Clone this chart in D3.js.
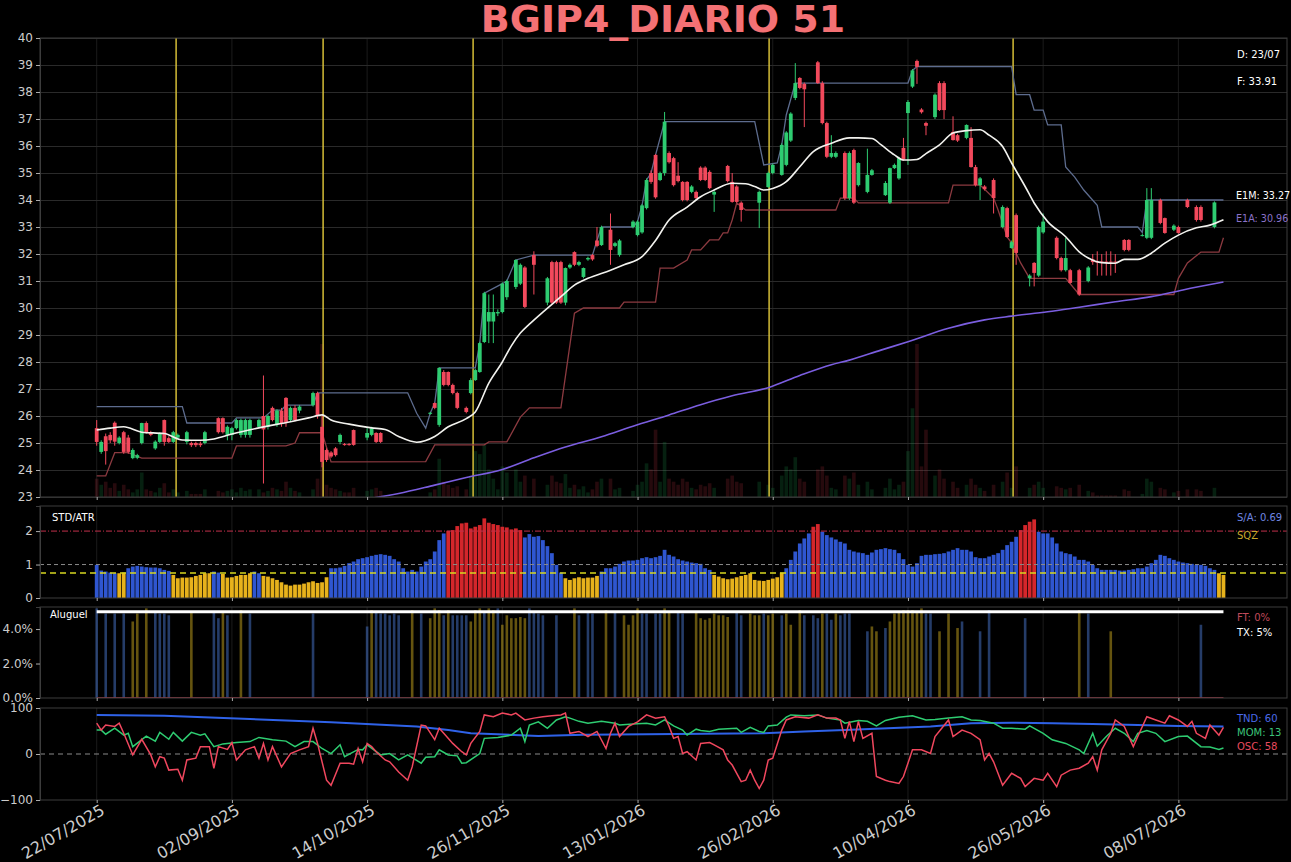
<!DOCTYPE html>
<html><head><meta charset="utf-8">
<script src="https://cdn.jsdelivr.net/npm/d3@7"></script>
<style>body{margin:0;background:#000;} svg{display:block;font-family:"DejaVu Sans",sans-serif;}</style>
</head><body><svg id="c" width="1291" height="862"></svg>
<script>
// ---------------- DATA ----------------
const title = "BGIP4_DIARIO 51";
const tickIdx = [0,30,60,90,120,150,180,210,240];
const tickLabels = ["22/07/2025","02/09/2025","14/10/2025","26/11/2025","13/01/2026","26/02/2026","10/04/2026","26/05/2026","08/07/2026"];
const priceTicks = [23,24,25,26,27,28,29,30,31,32,33,34,35,36,37,38,39,40];

// candles: index, open, high, low, close
const cIdx  = [0,1,2,3,4,5,6,7,8,9,10,11,12,13,14,15,16,17,18,20,21,22,23,24,27,28,29,30,31,32,33,34,36,37,38,39,40,41,42,43,44,45,48,49,50,51,52,53,54,55,56,57,60,61,62,63,74,75,76,77,78,79,80,82,83,84,85,86,87,88,89,90,91,93,94,95,97,100,101,102,103,104,105,106,107,108,109,110,111,112,114,115,116,119,120,121,122,123,124,125,126,127,128,129,130,131,132,133,134,135,136,137,140,141,142,143,147,149,150,152,153,154,155,156,157,160,161,162,163,164,166,167,168,169,171,172,175,176,177,178,179,180,181,182,183,184,186,187,188,190,191,193,194,195,196,197,199,201,202,203,204,207,208,209,210,213,214,215,216,218,220,221,222,223,224,225,226,228,229,232,233,234,236,237,239,240,242,244,245,248];
const cOpen = [25.55,24.67,25.25,25.3,25.75,25.0,25.4,25.2,24.44,24.45,25.0,25.74,25.4,24.8,25.04,25.85,25.18,25.04,25.2,25.04,25.0,25.0,24.98,25.0,25.92,25.92,25.3,25.3,25.55,25.3,25.3,25.3,25.6,26.0,25.6,26.3,25.7,26.2,26.67,25.85,26.3,26.2,26.4,26.85,25.6,24.74,24.65,24.8,25.04,24.96,24.96,25.48,25.2,25.3,25.37,25.37,26.08,26.48,25.67,27.63,27.63,27.15,26.85,26.3,26.85,27.33,27.63,28.74,29.5,29.5,29.8,29.85,30.4,30.78,30.9,31.5,31.96,30.2,31.7,31.7,31.7,30.2,31.5,32.07,31.6,31.15,31.8,31.96,32.5,32.33,32.9,32.3,31.96,33.0,32.7,32.8,33.7,35.0,35.67,34.74,35.0,35.74,35.55,34.9,34.67,34.67,34.3,34.3,35.2,35.2,35.04,34.2,35.26,34.67,34.5,33.9,33.9,34.48,35.0,34.93,35.3,36.2,37.78,38.52,38.3,39.1,38.33,36.85,35.6,35.6,35.74,34.07,35.85,34.55,34.3,34.93,34.18,33.9,35.18,34.8,35.93,37.22,38.2,39.15,37.35,36.85,37.07,38.33,38.33,36.52,36.4,36.3,36.3,35.22,34.55,34.5,34.74,33.0,33.7,32.22,33.44,31.1,31.67,31.2,32.8,32.6,31.85,31.4,31.4,31.4,31.0,31.8,31.72,31.72,31.72,31.72,31.72,32.52,32.52,32.7,32.6,32.6,34.0,33.33,32.9,33.0,34.0,33.74,33.74,33.0];
const cHigh = [25.85,25.1,25.35,25.4,25.8,25.25,25.45,25.3,24.8,24.6,25.75,25.8,25.45,25.1,25.4,25.87,25.25,25.45,25.35,25.45,25.05,25.05,25.05,25.45,25.95,25.95,25.65,25.6,25.9,25.9,25.9,25.9,25.9,27.5,26.05,26.35,26.25,26.3,26.7,26.35,26.4,26.4,26.9,26.9,26.0,24.8,24.7,24.85,25.35,25.0,25.0,25.5,25.55,25.6,25.4,25.4,26.15,26.5,27.8,27.7,27.65,27.2,26.9,26.35,27.4,27.75,28.75,30.6,30.5,30.5,29.95,30.95,31.05,31.8,31.65,31.55,32.1,31.15,31.75,31.75,31.75,31.5,31.65,32.1,31.75,31.5,31.9,32.0,33.0,33.05,33.5,32.45,32.55,33.25,33.25,33.85,34.8,35.1,35.7,35.05,37.26,35.8,35.6,35.4,34.7,34.7,34.55,34.35,35.25,35.25,35.1,34.35,35.3,35.0,34.55,33.95,34.35,35.05,35.35,36.1,36.55,37.25,39.07,38.55,38.35,39.15,38.4,36.9,36.4,35.8,35.8,35.8,35.9,35.4,35.9,35.15,34.7,35.2,35.35,35.6,36.3,37.7,38.85,39.2,37.4,36.9,37.95,38.4,38.4,37.1,36.45,36.8,36.7,35.3,34.85,34.55,34.8,33.8,33.75,32.5,33.5,31.25,31.7,33.05,33.5,32.65,31.9,32.6,31.45,31.45,31.55,32.0,32.1,32.0,32.1,32.1,32.0,32.55,32.55,32.75,34.44,34.44,34.05,33.35,33.1,33.05,34.05,33.8,33.8,33.95];
const cLow  = [24.9,24.6,24.2,25.0,24.9,24.95,24.6,24.6,24.4,24.4,24.95,25.35,25.25,24.75,25.0,24.9,25.0,25.0,25.15,24.95,24.85,24.85,24.85,24.95,25.35,25.35,25.1,25.1,25.5,25.2,25.2,25.2,25.55,23.5,25.5,25.8,25.6,25.6,25.6,25.8,25.8,26.1,26.35,25.9,24.1,24.3,24.45,24.5,24.95,24.9,24.9,24.9,25.1,25.25,25.0,25.0,26.05,26.25,25.6,27.1,27.1,26.8,26.25,26.1,26.8,27.3,27.6,28.7,28.7,28.7,29.7,29.8,30.3,30.7,30.85,30.0,30.5,30.1,30.15,30.15,30.15,30.1,31.45,31.55,31.55,31.1,31.75,31.75,32.25,32.3,31.6,32.25,31.9,32.95,32.65,32.75,33.65,34.6,34.05,34.7,34.9,35.35,34.5,34.65,33.95,33.95,34.25,34.0,34.7,34.7,34.4,33.56,34.65,33.9,33.9,33.2,32.96,34.45,34.95,34.9,35.25,36.15,37.7,38.1,36.7,38.3,36.8,35.55,35.55,35.55,34.0,34.0,33.85,34.5,34.25,34.9,34.15,33.85,35.15,34.75,35.45,35.3,38.15,38.3,37.2,36.4,37.0,37.3,37.0,36.2,36.15,36.25,35.2,34.5,34.0,34.35,33.5,32.95,32.6,32.2,31.6,30.8,30.8,31.15,32.75,31.8,31.35,31.35,30.9,30.45,30.95,31.6,31.2,31.2,31.2,31.2,31.3,32.1,32.1,32.65,32.55,32.55,33.1,32.75,32.85,32.75,33.7,33.2,33.2,32.95];
const cClose= [25.04,25.04,24.7,25.1,25.05,25.2,24.67,24.67,24.74,24.55,25.74,25.4,25.3,25.05,25.37,25.04,25.04,25.4,25.3,25.4,24.92,24.92,24.92,25.4,25.4,25.4,25.6,25.55,25.85,25.85,25.85,25.85,25.85,25.5,26.0,25.85,26.2,25.7,25.74,26.3,25.85,26.35,26.85,26.0,24.3,24.37,24.5,24.55,25.3,24.93,24.93,24.93,25.37,25.55,25.04,25.04,26.12,26.3,27.78,27.15,27.15,26.85,26.3,26.15,27.33,27.7,28.7,30.55,29.85,29.85,29.85,30.9,31.0,31.78,31.6,30.04,31.6,31.1,30.2,30.2,30.2,31.48,31.6,31.6,31.7,31.48,31.85,31.8,32.3,33.0,32.15,32.4,32.5,33.2,33.2,33.8,34.74,34.67,34.1,35.0,36.9,35.4,34.55,34.7,34.0,34.0,34.5,34.07,34.74,34.74,34.44,34.3,34.7,33.93,33.93,33.63,34.3,35.0,35.3,36.04,36.5,37.2,38.33,38.15,38.1,38.33,36.85,35.6,35.74,35.74,34.07,35.74,33.9,35.37,34.93,35.1,34.63,35.18,35.3,35.55,35.5,37.63,38.8,38.93,37.25,36.75,37.9,37.33,37.33,36.22,36.2,36.78,35.22,34.55,34.8,34.4,34.07,33.74,32.63,32.44,32.04,31.2,31.3,33.0,33.2,31.85,31.4,31.85,30.93,30.5,31.5,31.7,31.7,31.7,31.7,31.7,31.7,32.15,32.15,32.7,34.0,34.0,33.15,32.78,33.05,32.78,33.74,33.26,33.26,33.91];

// volume per bar (relative units)
const volume = [12,8,10,6,9,4,8,5,3,5, 16,5,4,3,6,9,3,5,3,0, 4,2,2,2,5,0,0,4,3,4, 5,3,6,4,5,0,5,3,4,6,
 5,4,10,6,4,3,0,0,5,12, 100,8,6,5,4,3,3,6,0,0, 4,5,6,4,0,0,0,0,0,0, 0,0,0,0,3,5,25,10,8,6,
 7,0,5,14,30,28,34,18,12,5, 20,16,0,18,10,14,0,12,0,0, 8,14,10,9,15,6,8,5,7,3, 5,10,12,0,12,5,6,0,0,4,
 8,10,22,18,44,10,36,12,10,8, 12,10,6,5,8,7,9,6,0,0, 12,14,10,9,0,0,0,10,0,8, 6,0,14,20,18,26,12,10,0,0,
 18,20,14,6,5,0,14,12,16,8, 0,10,5,0,0,6,12,5,8,10, 30,58,100,20,44,0,14,18,12,0, 10,6,0,8,12,8,6,4,0,8,
 0,10,16,6,20,0,0,6,8,10, 6,0,0,7,6,5,6,0,8,0, 4,3,1,1,1,1,1,0,5,4, 0,0,2,12,10,0,6,5,0,3, 4,0,5,0,5,4,0,0,6,0, 0];

const ema1mIdx = [0,3,6,10,15,19,23,26,30,36,43,47,50,52,56,61,64,67,71,75,78,82,84,87,90,92,94,96,99,103,106,109,114,117,121,124,127,131,134,137,141,144,146,148,150,153,156,159,163,167,169,172,174,177,179,182,184,187,190,193,196,198,201,203,206,208,211,215,218,220,223,226,228,231,234,237,240,244,247,250];
const ema1mVal = [25.48,25.55,25.6,25.4,25.35,25.11,25.1,25.15,25.33,25.56,25.79,25.93,26.04,25.85,25.7,25.56,25.5,25.24,25.03,25.24,25.6,25.9,26.15,27.22,28.0,28.6,29.07,29.4,29.85,30.42,30.85,31.1,31.4,31.6,31.9,32.5,33.26,33.74,34.12,34.37,34.62,34.6,34.5,34.37,34.43,34.68,35.23,35.79,36.1,36.3,36.3,36.28,36.05,35.67,35.48,35.5,35.72,36.04,36.48,36.57,36.6,36.4,35.98,35.37,34.5,33.89,33.2,32.64,32.08,31.85,31.68,31.66,31.8,31.8,32.03,32.4,32.7,32.97,33.07,33.27];
const ema1aIdx = [57,67,75,82,90,97,104,112,119,127,134,141,149,156,163,167,174,180,189,197,203,211,218,226,234,241,250];
const ema1aVal = [22.85,23.13,23.44,23.72,24.02,24.45,24.85,25.23,25.62,26.04,26.42,26.75,27.05,27.5,27.9,28.07,28.44,28.75,29.25,29.56,29.7,29.86,30.03,30.23,30.42,30.67,30.96];

const donHiIdx = [0,19,20,30,31,37,39,41,42,48,49,69,71,73,74,75,76,84,85,86,90,91,93,97,110,111,112,119,120,121,122,123,124,126,146,148,151,152,153,155,180,181,182,203,204,207,208,210,211,214,215,217,219,222,223,231,232,233,250];
const donHiVal = [26.35,26.35,25.74,25.74,25.93,25.93,26.22,26.22,26.4,26.4,26.86,26.86,26.1,25.55,26.1,26.48,27.78,27.78,28.7,30.55,30.9,31.0,31.78,31.96,31.96,32.5,33.0,33.0,33.2,33.8,34.74,35.0,35.67,36.9,36.9,35.3,35.37,36.04,37.15,38.33,38.33,38.8,38.94,38.94,37.9,37.9,37.33,37.33,36.78,36.78,35.22,34.85,34.37,33.8,33.0,33.0,32.8,34.0,34.0];
const donLoIdx = [0,2,4,7,10,30,31,42,44,45,50,52,73,75,86,87,91,94,96,103,106,108,116,117,124,125,128,131,132,134,136,138,139,140,141,142,144,164,165,168,169,189,190,196,197,199,200,202,203,205,207,215,218,239,240,242,245,249,250];
const donLoVal = [23.78,23.78,24.64,24.64,24.44,24.44,24.89,24.89,25.0,25.38,25.38,24.3,24.31,24.93,24.93,25.04,25.04,25.96,26.3,26.3,29.81,30.0,30.0,30.22,30.22,31.48,31.48,31.78,32.15,32.15,32.52,32.52,32.78,32.78,33.26,33.89,33.63,33.63,34.07,34.07,33.89,33.89,34.55,34.55,34.4,34.07,33.63,32.63,32.4,31.67,31.1,31.1,30.5,30.5,31.1,31.67,32.07,32.07,32.6];

const eventIdx = [17.5, 50.3, 83.4, 149.2, 203.3];

// STD/ATR per bar
const stdAtr = [0.99,0.82,0.79,0.76,0.74,0.74,0.76,0.89,0.94,0.96, 0.94,0.92,0.91,0.91,0.89,0.84,0.81,0.69,0.59,0.61,
 0.61,0.62,0.66,0.69,0.74,0.74,0.79,0.76,0.72,0.61, 0.62,0.66,0.69,0.69,0.74,0.79,0.74,0.66,0.64,0.59,
 0.54,0.47,0.40,0.37,0.40,0.40,0.43,0.47,0.50,0.45, 0.47,0.62,0.89,0.89,0.91,0.96,1.04,1.09,1.16,1.19,
 1.22,1.26,1.29,1.31,1.29,1.26,1.16,1.09,0.89,0.79, 0.84,0.79,0.94,1.09,1.16,1.39,1.73,1.93,2.01,2.03,
 2.15,2.23,2.25,2.08,2.13,2.18,2.38,2.25,2.21,2.18, 2.13,2.11,2.05,2.08,2.03,1.81,1.91,1.83,1.85,1.73,
 1.55,1.34,0.99,0.76,0.59,0.54,0.59,0.62,0.59,0.61, 0.61,0.66,0.79,0.89,0.89,0.94,1.02,1.09,1.12,1.12,
 1.14,1.19,1.22,1.19,1.22,1.26,1.44,1.29,1.24,1.16, 1.12,1.09,1.06,1.04,1.02,0.89,0.84,0.69,0.64,0.59,
 0.56,0.58,0.62,0.66,0.69,0.74,0.54,0.52,0.51,0.54, 0.58,0.62,0.76,0.89,1.14,1.39,1.63,1.78,1.93,2.13,
 2.21,1.98,1.88,1.81,1.75,1.68,1.63,1.44,1.39,1.36, 1.34,1.29,1.36,1.44,1.46,1.49,1.46,1.44,1.34,1.16,
 0.99,0.94,1.04,1.26,1.29,1.29,1.31,1.32,1.34,1.39, 1.44,1.49,1.44,1.44,1.39,1.22,1.19,1.19,1.24,1.29,
 1.34,1.44,1.58,1.68,1.83,2.03,2.18,2.28,2.35,1.98, 1.93,1.93,1.81,1.63,1.39,1.34,1.31,1.24,1.14,1.14,
 1.09,0.99,0.89,0.84,0.84,0.84,0.84,0.82,0.82,0.84, 0.86,0.89,0.89,0.94,1.04,1.14,1.29,1.26,1.19,1.14,
 1.09,1.06,1.04,1.02,0.99,0.99,0.96,0.89,0.84,0.74, 0.69];
// state runs: B normal, Y squeeze, R expansion
const sqzRuns = [["B",5],["Y",2],["B",10],["Y",9],["B",2],["Y",7],["B",2],["Y",15],["B",26],["R",17],["B",9],["Y",8],["B",25],["Y",16],["B",6],["R",2],["B",44],["R",4],["B",40],["Y",2]];

// Aluguel (rental rate %) bars
const aluIdx = [0,2,4,6,8,9,11,13,14,15,16,21,26,27,28,29,32,34,48,60,61,62,63,64,65,66,67,70,72,74,75,76,77,78,79,80,81,82,83,84,85,86,87,88,89,90,91,92,93,94,95,96,97,98,99,102,106,107,109,110,113,115,117,118,119,120,121,122,124,125,126,127,129,130,133,134,135,136,137,138,139,140,142,143,145,146,147,148,149,150,152,153,154,156,157,159,160,161,162,163,164,165,166,167,171,172,173,175,176,177,178,179,180,181,182,183,184,185,187,189,191,192,196,198,206,218,220,225,245];
const aluVal = [5.2,4.9,4.9,4.9,4.44,4.9,5.2,5.0,4.9,4.9,4.8,5.0,5.0,4.63,5.0,4.8,5.1,4.9,4.9,4.15,5.1,5.0,4.9,4.9,4.8,4.9,4.8,5.1,4.9,4.63,5.2,5.1,4.8,5.1,4.8,4.8,4.8,4.8,4.44,5.1,5.2,5.0,5.2,5.1,5.2,4.25,4.8,4.63,4.63,4.7,4.63,5.2,5.0,4.9,4.8,4.8,5.2,4.8,5.0,4.9,5.1,5.0,4.8,4.25,4.8,5.2,4.9,4.9,4.9,4.9,5.2,5.0,5.0,4.9,5.0,4.63,4.54,4.63,4.9,4.8,4.8,4.7,5.0,4.8,4.9,4.8,4.8,4.9,4.8,4.9,4.8,4.9,4.25,5.1,4.8,4.8,4.63,4.9,4.9,4.54,4.9,4.8,4.9,4.9,3.87,4.15,3.87,4.06,4.44,4.9,5.0,5.1,5.1,5.1,5.0,5.2,4.9,4.9,3.87,4.9,4.06,4.44,3.87,5.1,4.63,5.1,4.9,3.87,4.25];
const aluType = "bbbbyyybbbbybbybybbbybbbbbbybyyybybbbbyyybyybyyyyyybbbbbybbbybyyyybbbbyybbyyyyyyyybbyyybyybyyybbbybbybbbbyybyyyyyyyybbyyybbbbyby";
const aluTaxa = 5;   // TX line (%)
const aluFt = 0;     // FT line (%)

const tndIdx = [0,15,34,52,71,78,83,89,98,108,122,148,157,166,185,194,203,212,221,231,240,250];
const tndVal = [85,83,76,69,60,52,45,43,39,42,43,45,49,52,60,67,68,67,65,63,61,60];
const momIdx = [0,1,2,4,6,7,8,11,13,14,16,17,19,21,23,24,26,28,31,34,36,39,42,44,46,48,50,52,54,55,58,59,60,63,65,67,69,72,73,75,76,78,80,81,82,85,86,89,92,94,95,96,98,100,102,104,105,107,109,112,115,116,119,122,124,126,128,130,131,133,134,136,138,140,142,143,145,147,148,149,151,153,154,157,160,162,165,166,169,171,173,175,178,181,184,186,189,192,194,196,199,201,203,206,207,210,212,215,218,219,221,222,224,226,228,230,231,233,235,237,240,242,245,247,249,250];
const momVal = [52,52,43,56,41,45,16,39,28,47,32,47,28,47,41,44,16,22,25,27,36,31,28,16,27,27,12,1,20,-6,10,9,20,-2,1,-13,-2,-20,-7,-6,9,-2,-4,-20,-19,1,34,36,41,56,27,63,70,56,74,81,78,71,67,71,67,63,65,67,63,74,61,52,41,54,51,49,54,55,56,47,58,49,47,61,63,80,85,83,85,78,74,67,73,71,61,73,80,83,74,75,78,81,74,73,67,56,56,54,61,45,31,23,9,1,45,17,38,56,45,27,45,51,45,27,38,39,16,15,10,13];
const oscIdx = [0,1,2,4,5,6,8,10,12,13,14,15,16,18,19,20,22,23,25,26,27,29,30,31,33,35,36,37,38,39,41,43,45,47,48,49,51,52,54,56,57,58,59,60,61,62,64,65,67,69,70,72,73,75,76,77,79,81,82,83,85,86,88,90,92,93,95,97,99,101,103,104,105,107,109,111,113,114,115,116,118,120,122,124,126,127,128,129,130,131,133,134,136,137,139,140,141,143,144,145,146,147,148,149,150,152,153,155,158,160,162,164,165,166,167,168,169,170,172,173,175,176,178,179,181,183,185,186,189,190,192,194,196,197,198,199,201,203,205,206,208,210,211,213,214,216,218,220,221,222,223,225,226,228,230,231,233,235,237,238,240,242,243,244,246,247,249,250];
const oscVal = [67,52,63,60,67,45,-2,32,-2,-28,-6,-9,-35,-33,-57,-13,-9,16,16,-31,16,10,25,-13,9,16,-9,23,-13,16,-28,1,9,16,56,23,-57,-68,-20,-20,-22,12,-17,23,16,5,-13,-17,-39,-57,-28,63,61,31,56,45,23,5,-2,23,49,85,81,89,85,89,74,78,81,83,85,89,45,49,38,49,12,45,67,38,60,70,85,78,81,60,34,38,1,5,-13,23,25,20,9,-13,-24,-60,-57,-35,-57,-75,-57,-13,-9,52,74,81,78,85,78,78,74,34,71,27,71,34,45,-49,-57,-60,-64,-49,9,9,1,38,74,38,52,45,31,-13,1,-17,-68,-42,-53,-71,-53,-57,-42,-71,-46,-35,-31,-20,-6,-35,9,45,74,60,16,38,81,74,67,83,74,60,71,45,34,63,41,58];

const lastInfo = {d:"D: 23/07", f:"F: 33.91", e1m:"E1M: 33.27", e1a:"E1A: 30.96", sa:"S/A: 0.69", tnd:"TND: 60", mom:"MOM: 13", osc:"OSC: 58"};

// ---------------- DRAW ----------------
const svg = d3.select("#c");
svg.append("rect").attr("width",1291).attr("height",862).attr("fill","#000");
const L = 40, R = 1287;
const x = d3.scaleLinear().domain([-12.58, 264.1]).range([L, R]);
const bw = (x(1) - x(0));
const yP = d3.scaleLinear().domain([23, 40]).range([497, 38]);
const yV = d3.scaleLinear().domain([0, 300]).range([497, 38]);
const yS = d3.scaleLinear().domain([0, 2.75]).range([598, 506]);
const yA = d3.scaleLinear().domain([0, 5.28]).range([698, 607]);
const yO = d3.scaleLinear().domain([-100, 100]).range([800, 708]);
const panels = [[yP,38,497],[yS,506,598],[yA,607,698],[yO,708,800]];

const defs = svg.append("defs");
panels.forEach((p,k)=>{
  defs.append("clipPath").attr("id","clip"+k).append("rect")
    .attr("x",L).attr("y",p[1]).attr("width",R-L).attr("height",p[2]-p[1]);
});

// vertical faint grid
panels.forEach(p=>{
  svg.append("g").selectAll("line").data(tickIdx).join("line")
    .attr("x1",d=>x(d)).attr("x2",d=>x(d)).attr("y1",p[1]).attr("y2",p[2])
    .attr("stroke","#1b1b1b").attr("stroke-width",1);
});
// price horizontal grid
svg.append("g").selectAll("line").data(priceTicks).join("line")
  .attr("x1",L).attr("x2",R).attr("y1",d=>Math.round(yP(d))+0.5).attr("y2",d=>Math.round(yP(d))+0.5)
  .attr("stroke","#2a2a2a").attr("stroke-width",1);

// ---- price panel
const gp = svg.append("g").attr("clip-path","url(#clip0)");
const candles = cIdx.map((d,k)=>({i:d,o:cOpen[k],h:cHigh[k],l:cLow[k],c:cClose[k]}));
const upCol = "#2ecc71", dnCol = "#f2495c";
const isUp = new Map(candles.map(c=>[c.i, c.c >= c.o]));
// volume
gp.append("g").selectAll("rect").data(volume.map((v,i)=>({i,v})).filter(d=>d.v>0)).join("rect")
  .attr("x",d=>x(d.i)-bw*0.4).attr("width",bw*0.8)
  .attr("y",d=>yV(d.v)).attr("height",d=>yV(0)-yV(d.v))
  .attr("fill",d=>isUp.get(d.i)===false ? "#c03040" : "#1fa050").attr("opacity",0.2);
// event lines
gp.append("g").selectAll("rect").data(eventIdx).join("rect")
  .attr("x",d=>Math.round(x(d))-0.6).attr("width",1.4).attr("y",38).attr("height",459)
  .attr("fill","#e2c93a");
// donchian
const lineP = (idx,val)=>d3.line().x((d,k)=>x(idx[k])).y(d=>yP(d))(val);
gp.append("path").attr("d",lineP(donHiIdx,donHiVal)).attr("fill","none").attr("stroke","#5d6c8e").attr("stroke-width",1.3);
gp.append("path").attr("d",lineP(donLoIdx,donLoVal)).attr("fill","none").attr("stroke","#8c3a40").attr("stroke-width",1.3);
// ema1a
gp.append("path").attr("d",d3.line().curve(d3.curveMonotoneX).x((d,k)=>x(ema1aIdx[k])).y(d=>yP(d))(ema1aVal))
  .attr("fill","none").attr("stroke","#7b5ee0").attr("stroke-width",1.6);
// candles
const cg = gp.append("g");
cg.selectAll("line").data(candles).join("line")
  .attr("x1",d=>x(d.i)).attr("x2",d=>x(d.i)).attr("y1",d=>yP(d.h)).attr("y2",d=>yP(d.l))
  .attr("stroke",d=>d.c>=d.o?upCol:dnCol).attr("stroke-width",1);
cg.selectAll("rect").data(candles).join("rect")
  .attr("x",d=>x(d.i)-bw*0.42).attr("width",bw*0.84)
  .attr("y",d=>yP(Math.max(d.o,d.c))).attr("height",d=>Math.max(1,Math.abs(yP(d.o)-yP(d.c))))
  .attr("fill",d=>d.c>=d.o?upCol:dnCol);
// ema1m
gp.append("path").attr("d",d3.line().curve(d3.curveMonotoneX).x((d,k)=>x(ema1mIdx[k])).y(d=>yP(d))(ema1mVal))
  .attr("fill","none").attr("stroke","#f2f2ee").attr("stroke-width",1.6);

// ---- STD/ATR panel
const gs = svg.append("g").attr("clip-path","url(#clip1)");
const sqz = [];
sqzRuns.forEach(r=>{ for(let k=0;k<r[1];k++) sqz.push(r[0]); });
const sCol = {B:"#2f56d0", Y:"#e7b21c", R:"#d4262b"};
gs.append("g").selectAll("rect").data(stdAtr.map((v,i)=>({i,v,s:sqz[i]}))).join("rect")
  .attr("x",d=>x(d.i)-bw*0.42).attr("width",bw*0.84)
  .attr("y",d=>yS(d.v)).attr("height",d=>yS(0)-yS(d.v))
  .attr("fill",d=>sCol[d.s]);
[[2,"#c0304a","6,2,1,2",1],[1,"#8a8a8a","4,3",1],[0.75,"#d8d820","6,4",1.5]].forEach(h=>{
  gs.append("line").attr("x1",L).attr("x2",R).attr("y1",yS(h[0])).attr("y2",yS(h[0]))
    .attr("stroke",h[1]).attr("stroke-dasharray",h[2]).attr("stroke-width",h[3]);
});

// ---- Aluguel panel
const ga = svg.append("g").attr("clip-path","url(#clip2)");
ga.append("g").selectAll("rect").data(aluIdx.map((d,k)=>({i:d,v:aluVal[k],t:aluType[k]}))).join("rect")
  .attr("x",d=>x(d.i)-1.3).attr("width",2.6)
  .attr("y",d=>yA(d.v)).attr("height",d=>yA(0)-yA(d.v))
  .attr("fill",d=>d.t==="y"?"#c9a81e":"#4a78d0").attr("opacity",0.5);
ga.append("line").attr("x1",x(0)).attr("x2",x(250)).attr("y1",yA(aluTaxa)).attr("y2",yA(aluTaxa))
  .attr("stroke","#ffffff").attr("stroke-width",3);
ga.append("line").attr("x1",x(0)).attr("x2",x(250)).attr("y1",yA(aluFt)).attr("y2",yA(aluFt))
  .attr("stroke","#c04052").attr("stroke-width",1.5);

// ---- Oscillator panel
const go = svg.append("g").attr("clip-path","url(#clip3)");
go.append("line").attr("x1",L).attr("x2",R).attr("y1",yO(0)).attr("y2",yO(0))
  .attr("stroke","#8a8a8a").attr("stroke-dasharray","5,4").attr("stroke-width",1);
const lineO = (idx,val)=>d3.line().x((d,k)=>x(idx[k])).y(d=>yO(d))(val);
go.append("path").attr("d",lineO(tndIdx,tndVal)).attr("fill","none").attr("stroke","#2f62e8").attr("stroke-width",2);
go.append("path").attr("d",lineO(momIdx,momVal)).attr("fill","none").attr("stroke","#2ecc71").attr("stroke-width",1.5);
go.append("path").attr("d",lineO(oscIdx,oscVal)).attr("fill","none").attr("stroke","#f0475e").attr("stroke-width",1.5);

// ---- frames & axes
panels.forEach(p=>{
  svg.append("rect").attr("x",L).attr("y",p[1]).attr("width",R-L).attr("height",p[2]-p[1])
    .attr("fill","none").attr("stroke","#3c3c3c").attr("stroke-width",1);
});
function styleAxis(g){
  g.selectAll(".domain").attr("stroke","#3c3c3c");
  g.selectAll(".tick line").attr("stroke","#aaaaaa");
  g.selectAll(".tick text").attr("fill","#cccccc").attr("font-size",12).attr("font-family","DejaVu Sans");
}
svg.append("g").attr("transform",`translate(${L},0)`).call(d3.axisLeft(yP).tickValues(priceTicks).tickSize(4).tickPadding(3)).call(styleAxis);
svg.append("g").attr("transform",`translate(${L},0)`).call(d3.axisLeft(yS).tickValues([0,1,2]).tickFormat(d3.format("d")).tickSize(4).tickPadding(3)).call(styleAxis);
svg.append("g").attr("transform",`translate(${L},0)`).call(d3.axisLeft(yA).tickValues([0,2,4]).tickFormat(d=>d3.format(".1f")(d)+"%").tickSize(4).tickPadding(3)).call(styleAxis);
svg.append("g").attr("transform",`translate(${L},0)`).call(d3.axisLeft(yO).tickValues([-100,0,100]).tickFormat(d=>d<0?"\u2212"+Math.abs(d):d).tickSize(4).tickPadding(3)).call(styleAxis);
panels.forEach(p=>{
  svg.append("g").attr("transform",`translate(0,${p[2]})`).call(d3.axisBottom(x).tickValues(tickIdx).tickSize(3).tickFormat(""))
    .call(g=>{g.select(".domain").remove(); g.selectAll(".tick line").attr("stroke","#aaaaaa");});
});
// rotated date labels
svg.append("g").selectAll("text").data(tickIdx).join("text")
  .attr("transform",d=>`translate(${x(d)+3},${803}) rotate(-30)`)
  .attr("text-anchor","end").attr("dy","0.75em")
  .attr("fill","#cccccc").attr("font-size",16).text((d,k)=>tickLabels[k]);

// ---- title & labels
svg.append("text").attr("x",663).attr("y",32).attr("text-anchor","middle")
  .attr("font-size",38).attr("font-weight","bold").attr("fill","#f47174").text(title);
const lab = (tx,xx,yy,col,fs)=>svg.append("text").attr("x",xx).attr("y",yy).attr("dy","0.35em")
  .attr("font-size",fs||10).attr("fill",col).text(tx);
lab(lastInfo.d,1237,54,"#ffffff");
lab(lastInfo.f,1237,81,"#ffffff");
lab(lastInfo.e1m,1236,196,"#ffffff",9.6);
lab(lastInfo.e1a,1236,219,"#8a72c8",9.6);
lab("STD/ATR",52,517,"#ffffff");
lab(lastInfo.sa,1237,517,"#6f86e0");
lab("SQZ",1237,535,"#c9a62c");
lab("Aluguel",50,614,"#ffffff");
lab("FT: 0%",1237,617,"#c04a5a");
lab("TX: 5%",1237,632,"#ffffff");
lab(lastInfo.tnd,1237,718,"#4a6ae8");
lab(lastInfo.mom,1237,732,"#3cc47a");
lab(lastInfo.osc,1237,746,"#e84a5e");
</script></body></html>
